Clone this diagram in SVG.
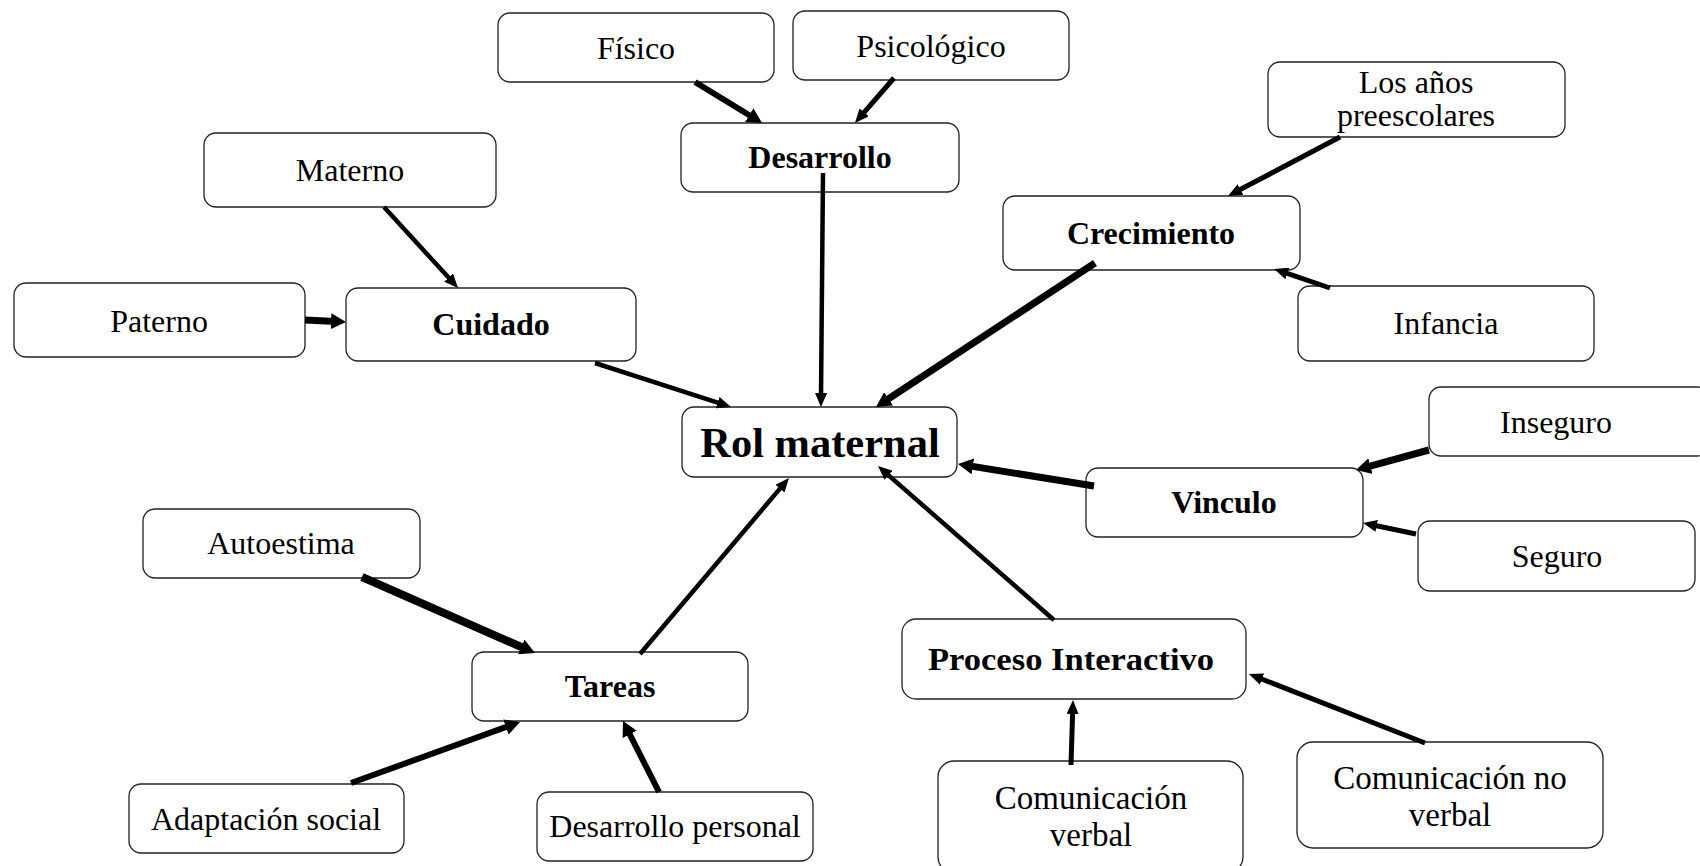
<svg xmlns="http://www.w3.org/2000/svg" width="1700" height="866" viewBox="0 0 1700 866">
<defs>
<style>
.box{fill:#fff;stroke:#222;stroke-width:1.3}
.t{font-size:32px;fill:#000;text-anchor:middle}
.b{font-weight:bold}
.c{stroke:#000;fill:none;stroke-linecap:butt}
.a{marker-end:url(#ah)}
.ab{marker-end:url(#ahb)}
</style>
<marker id="ah" markerUnits="userSpaceOnUse" markerWidth="14" markerHeight="12" viewBox="0 0 14 12" refX="4" refY="6" orient="auto"><path d="M0,0 L14,6 L0,12 z" fill="#000"/></marker>
<marker id="ahb" markerUnits="userSpaceOnUse" markerWidth="15" markerHeight="16" viewBox="0 0 15 16" refX="5" refY="8" orient="auto"><path d="M0,0 L15,8 L0,16 z" fill="#000"/></marker>
</defs>
<rect width="1700" height="866" fill="#fff"/>
<g font-family="Liberation Serif, Times New Roman, Tinos, Times, serif">
<g id="fisico"><rect class="box" x="498" y="13" width="276" height="69" rx="12"/><text class="t" x="636" y="59">Físico</text></g>
<g id="psicologico"><rect class="box" x="793" y="11" width="276" height="69" rx="12"/><text class="t" x="931" y="57">Psicológico</text></g>
<g id="desarrollo"><rect class="box" x="681" y="123" width="278" height="69" rx="12"/><text class="t b" x="820" y="168">Desarrollo</text></g>
<g id="materno"><rect class="box" x="204" y="133" width="292" height="74" rx="12"/><text class="t" x="350" y="181">Materno</text></g>
<g id="paterno"><rect class="box" x="14" y="283" width="291" height="74" rx="12"/><text class="t" x="159" y="332">Paterno</text></g>
<g id="cuidado"><rect class="box" x="346" y="288" width="290" height="73" rx="12"/><text class="t b" x="491" y="335">Cuidado</text></g>
<g id="losanos"><rect class="box" x="1268" y="62" width="297" height="75" rx="12"/><text class="t" x="1416" y="93">Los años</text><text class="t" x="1416" y="126">preescolares</text></g>
<g id="crecimiento"><rect class="box" x="1003" y="196" width="297" height="74" rx="12"/><text class="t b" x="1151" y="244">Crecimiento</text></g>
<g id="infancia"><rect class="box" x="1298" y="286" width="296" height="75" rx="12"/><text class="t" x="1446" y="334">Infancia</text></g>
<g id="rolmaternal"><rect class="box" x="682" y="407" width="275" height="70" rx="12"/><text class="t b" x="820" y="457" style="font-size:42.5px">Rol maternal</text></g>
<g id="vinculo"><rect class="box" x="1086" y="468" width="277" height="69" rx="12"/><text class="t b" x="1224" y="513">Vinculo</text></g>
<g id="inseguro"><rect class="box" x="1429" y="387" width="280" height="69" rx="12"/><text class="t" x="1556" y="433">Inseguro</text></g>
<g id="seguro"><rect class="box" x="1418" y="521" width="277" height="70" rx="12"/><text class="t" x="1557" y="567">Seguro</text></g>
<g id="autoestima"><rect class="box" x="143" y="509" width="277" height="69" rx="12"/><text class="t" x="281" y="554">Autoestima</text></g>
<g id="tareas"><rect class="box" x="472" y="652" width="276" height="69" rx="12"/><text class="t b" x="610" y="697">Tareas</text></g>
<g id="adaptacion"><rect class="box" x="129" y="784" width="275" height="69" rx="12"/><text class="t" x="266" y="830">Adaptación social</text></g>
<g id="desarrollopersonal"><rect class="box" x="537" y="792" width="276" height="69" rx="12"/><text class="t" x="675" y="837">Desarrollo personal</text></g>
<g id="proceso"><rect class="box" x="902" y="619" width="344" height="80" rx="14"/><text class="t b" x="1071" y="670" textLength="286" lengthAdjust="spacingAndGlyphs">Proceso Interactivo</text></g>
<g id="comverbal"><rect class="box" x="938" y="761" width="305" height="112" rx="16"/><text class="t" x="1091" y="809" style="font-size:33px">Comunicación</text><text class="t" x="1091" y="846" style="font-size:33px">verbal</text></g>
<g id="comnoverbal"><rect class="box" x="1297" y="742" width="306" height="106" rx="16"/><text class="t" x="1450" y="789" style="font-size:33px">Comunicación no</text><text class="t" x="1450" y="826" style="font-size:33px">verbal</text></g>
</g>
<g id="connectors">
<line class="c ab" x1="695" y1="82" x2="753.5" y2="117.8" stroke-width="6"/>
<line class="c a" x1="894" y1="78" x2="861.5" y2="115.4" stroke-width="5"/>
<line class="c a" x1="823" y1="173" x2="821" y2="397" stroke-width="4.5"/>
<line class="c a" x1="384" y1="207" x2="451.3" y2="280.6" stroke-width="4.5"/>
<line class="c ab" x1="305" y1="320" x2="336" y2="321.5" stroke-width="7"/>
<line class="c a" x1="595" y1="363" x2="721.5" y2="403.9" stroke-width="4.5"/>
<line class="c a" x1="1340" y1="137" x2="1236.9" y2="191.3" stroke-width="5"/>
<line class="c a" x1="1330" y1="288" x2="1283.5" y2="272.2" stroke-width="5"/>
<line class="c ab" x1="1095" y1="263" x2="884.4" y2="401.5" stroke-width="7"/>
<line class="c ab" x1="1094" y1="486" x2="967.9" y2="465.6" stroke-width="7"/>
<line class="c ab" x1="1429" y1="450" x2="1365.6" y2="467.4" stroke-width="7"/>
<line class="c a" x1="1416" y1="534" x2="1372.8" y2="525" stroke-width="5"/>
<line class="c a" x1="640" y1="654" x2="782.5" y2="485.6" stroke-width="4.5"/>
<line class="c a" x1="1054" y1="620" x2="885.5" y2="472.6" stroke-width="4.5"/>
<line class="c ab" x1="362" y1="577" x2="525.9" y2="649" stroke-width="8"/>
<line class="c ab" x1="351" y1="783" x2="510.6" y2="725.4" stroke-width="6"/>
<line class="c ab" x1="659" y1="792" x2="627.5" y2="729.9" stroke-width="6"/>
<line class="c a" x1="1071" y1="765" x2="1072.7" y2="710" stroke-width="5"/>
<line class="c a" x1="1425" y1="743" x2="1258.3" y2="677.7" stroke-width="5"/>
</g>
</svg>
